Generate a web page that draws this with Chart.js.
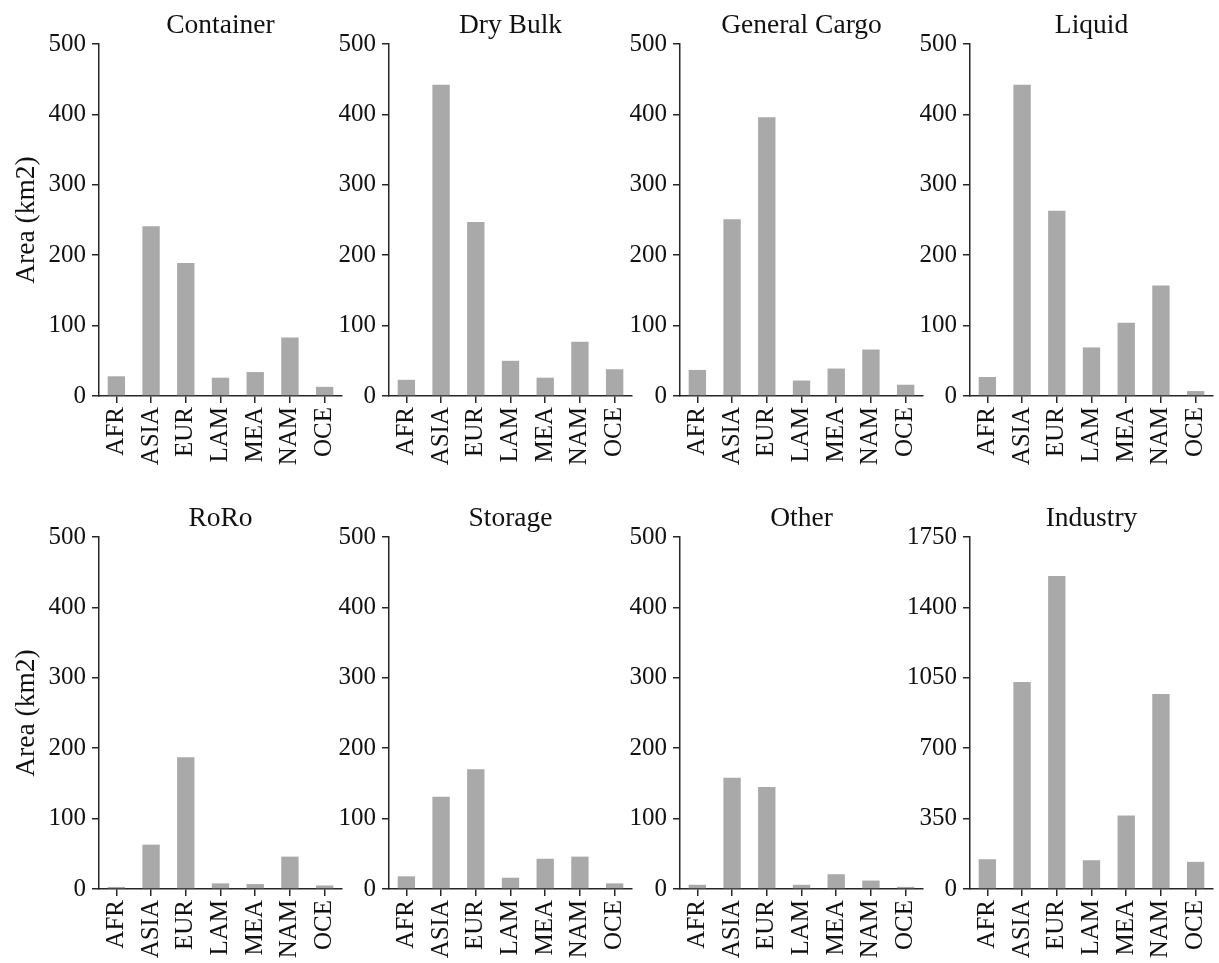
<!DOCTYPE html>
<html>
<head>
<meta charset="utf-8">
<script src="https://cdn.jsdelivr.net/npm/chart.js@4/dist/chart.umd.min.js"></script>
<style>
  html, body { margin: 0; padding: 0; background: #ffffff; }
  #grid { position: relative; width: 1219px; height: 963px; overflow: hidden; }
  #grid canvas { position: absolute; }
</style>
</head>
<body>
<div id="grid"></div>
<script>
// Regions along the x axis of every panel
const regions = ['AFR', 'ASIA', 'EUR', 'LAM', 'MEA', 'NAM', 'OCE'];

// Area (km2) per region, one array per terminal type
const container    = [28, 241, 189, 26, 34, 83, 13];
const dryBulk      = [23, 442, 247, 50, 26, 77, 38];
const generalCargo = [37, 251, 396, 22, 39, 66, 16];
const liquid       = [27, 442, 263, 69, 104, 157, 7];
const roro         = [3, 63, 187, 8, 7, 46, 5];
const storage      = [18, 131, 170, 16, 43, 46, 8];
const other        = [6, 158, 145, 6, 21, 12, 3];
const industry     = [148, 1029, 1556, 143, 366, 969, 135];

// Panel titles and y-axis ranges
const panelTitles = ['Container', 'Dry Bulk', 'General Cargo', 'Liquid',
                     'RoRo', 'Storage', 'Other', 'Industry'];
const portTicks     = { max: 500, step: 100 };
const industryTicks = { max: 1750, step: 350 };
const yLabel = 'Area (km2)';

const panels = [
  { title: panelTitles[0], values: container,    ticks: portTicks },
  { title: panelTitles[1], values: dryBulk,      ticks: portTicks },
  { title: panelTitles[2], values: generalCargo, ticks: portTicks },
  { title: panelTitles[3], values: liquid,       ticks: portTicks },
  { title: panelTitles[4], values: roro,         ticks: portTicks },
  { title: panelTitles[5], values: storage,      ticks: portTicks },
  { title: panelTitles[6], values: other,        ticks: portTicks },
  { title: panelTitles[7], values: industry,     ticks: industryTicks },
];

// Layout of the 2 x 4 grid (pixels)
const axisLeft   = [99, 389, 680, 970];   // x of each y-axis spine
const rowTop     = [0, 493];              // top of each row's canvas
const yAxisWidth = 95;
const plotWidth  = 243;
const plotHeight = 352;
const titleSpace = 44;
const xAxisHeight = 75;
const rightSpare = 20;

const FONT = "'Liberation Serif', 'Times New Roman', serif";
const INK = '#111111';
const SPINE = '#262626';
const BAR = '#a9a9a9';

const grid = document.getElementById('grid');

panels.forEach((p, i) => {
  const col = i % 4, row = Math.floor(i / 4);
  const canvas = document.createElement('canvas');
  const w = yAxisWidth + plotWidth + rightSpare;
  const h = titleSpace + plotHeight + xAxisHeight;
  canvas.width = w; canvas.height = h;
  canvas.style.width = w + 'px'; canvas.style.height = h + 'px';
  canvas.style.left = (axisLeft[col] - yAxisWidth) + 'px';
  canvas.style.top = rowTop[row] + 'px';
  grid.appendChild(canvas);

  new Chart(canvas, {
    type: 'bar',
    data: {
      labels: regions,
      datasets: [{
        data: p.values,
        backgroundColor: BAR,
        borderWidth: 0,
        barPercentage: 0.5,
        categoryPercentage: 1.0
      }]
    },
    options: {
      responsive: false,
      animation: false,
      devicePixelRatio: 1,
      layout: { padding: { left: 0, right: rightSpare, top: 0, bottom: 0 } },
      plugins: {
        legend: { display: false },
        tooltip: { enabled: false },
        title: {
          display: true,
          text: p.title,
          fullSize: false,
          color: INK,
          font: { family: FONT, size: 27.5, weight: 'normal' },
          padding: { top: 9, bottom: 2 }
        }
      },
      scales: {
        x: {
          type: 'category',
          offset: true,
          afterFit: s => { s.height = xAxisHeight; },
          border: { display: true, color: SPINE, width: 1.5 },
          grid: { display: true, drawOnChartArea: false, drawTicks: true,
                  tickLength: 7, color: SPINE, lineWidth: 1.5, offset: false },
          ticks: {
            autoSkip: false, minRotation: 90, maxRotation: 90, padding: 4,
            color: INK, font: { family: FONT, size: 25 }
          }
        },
        y: {
          min: 0,
          max: p.ticks.max,
          afterFit: s => { s.width = yAxisWidth; },
          border: { display: true, color: SPINE, width: 1.5 },
          grid: { display: true, drawOnChartArea: false, drawTicks: true,
                  tickLength: 7, color: SPINE, lineWidth: 1.5 },
          ticks: {
            stepSize: p.ticks.step, padding: 6,
            callback: v => String(v),
            color: INK, font: { family: FONT, size: 25 }
          },
          title: {
            display: col === 0,
            text: yLabel,
            color: INK,
            padding: { top: 6, bottom: 0 },
            font: { family: FONT, size: 27.5, weight: 'normal' }
          }
        }
      }
    }
  });
});
</script>
</body>
</html>
